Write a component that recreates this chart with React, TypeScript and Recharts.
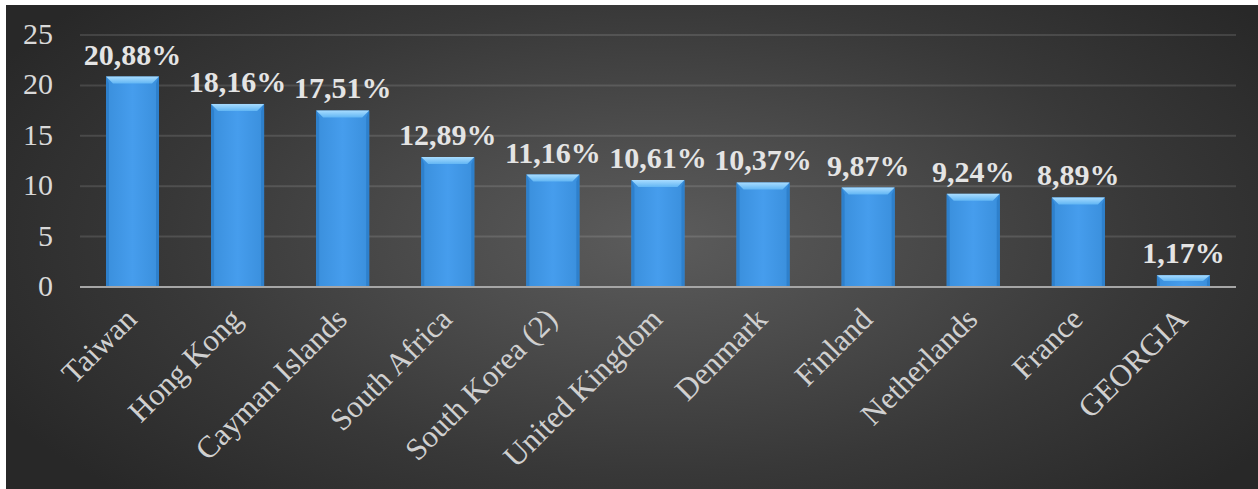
import React from 'react';
import { BarChart, Bar, XAxis, YAxis, CartesianGrid, LabelList } from 'recharts';

const countries = [
  'Taiwan',
  'Hong Kong',
  'Cayman Islands',
  'South Africa',
  'South Korea (2)',
  'United Kingdom',
  'Denmark',
  'Finland',
  'Netherlands',
  'France',
  'GEORGIA',
];
const shares = [20.88, 18.16, 17.51, 12.89, 11.16, 10.61, 10.37, 9.87, 9.24, 8.89, 1.17];
const yTicks = [0, 5, 10, 15, 20, 25];

const data = countries.map((name, i) => ({ name, value: shares[i] }));

const FONT = "'Liberation Serif', 'Times New Roman', serif";

const fmt = (v: number) => v.toFixed(2).replace('.', ',') + '%';

const BevelBar = (props: any) => {
  const { x, y, width, height } = props;
  if (!height || height <= 0) return null;
  const b = Math.min(7, height / 2);
  const s = 3;
  return (
    <g>
      <rect x={x} y={y} width={width} height={height} fill="url(#barBody)" />
      <polygon
        points={`${x},${y} ${x + s},${y + b} ${x + s},${y + height} ${x},${y + height}`}
        fill="#2e80cc"
      />
      <polygon
        points={`${x + width},${y} ${x + width - s},${y + b} ${x + width - s},${y + height} ${x + width},${y + height}`}
        fill="#2e80cc"
      />
      <polygon
        points={`${x},${y} ${x + width},${y} ${x + width - s - 4},${y + b} ${x + s + 4},${y + b}`}
        fill="url(#barTop)"
      />
    </g>
  );
};

const YTick = (props: any) => {
  const { x, y, payload } = props;
  return (
    <text x={x} y={y} dy="0.3em" textAnchor="end" fill="#d9d9d9" fontSize={30} fontFamily={FONT}>
      {payload.value}
    </text>
  );
};

const XTick = (props: any) => {
  const { x, y, payload } = props;
  const tx = x + 6;
  const ty = y;
  return (
    <text
      x={tx}
      y={ty}
      textAnchor="end"
      fill="#d0d0d0"
      fontSize={31}
      fontFamily={FONT}
      transform={`rotate(-45, ${tx}, ${ty})`}
    >
      {payload.value}
    </text>
  );
};

const ValueLabel = (props: any) => {
  const { x, y, width, value } = props;
  return (
    <text
      x={x + width / 2}
      y={y - 12}
      textAnchor="middle"
      fill="#e4e4e4"
      fontSize={30}
      fontWeight="bold"
      fontFamily={FONT}
    >
      {fmt(value)}
    </text>
  );
};

export default function App() {
  return (
    <div style={{ position: 'absolute', left: 0, top: 0, width: 1258, height: 489, background: '#ffffff' }}>
      <div
        style={{
          position: 'absolute',
          left: 6,
          top: 5,
          width: 1252,
          height: 484,
          background:
            'radial-gradient(ellipse 60% 75% at 52% 48%, #5c5c5c 0%, #4c4c4c 30%, #383838 65%, #282828 100%)',
        }}
      >
        <BarChart
          width={1252}
          height={484}
          data={data}
          margin={{ top: 30, right: 22, left: 0, bottom: 0 }}
          barCategoryGap={0}
        >
          <defs>
            <linearGradient id="barBody" x1="0" y1="0" x2="1" y2="0">
              <stop offset="0%" stopColor="#3a8fdc" />
              <stop offset="50%" stopColor="#469ded" />
              <stop offset="100%" stopColor="#3a8fdc" />
            </linearGradient>
            <linearGradient id="barTop" x1="0" y1="0" x2="0" y2="1">
              <stop offset="0%" stopColor="#a8dcff" />
              <stop offset="100%" stopColor="#62b6f4" />
            </linearGradient>
          </defs>
          <CartesianGrid vertical={false} stroke="#ffffff" strokeOpacity={0.12} strokeWidth={2} />
          <XAxis
            dataKey="name"
            interval={0}
            height={202}
            tickLine={false}
            tickSize={0}
            tickMargin={34}
            axisLine={{ stroke: '#a6a6a6', strokeWidth: 2 }}
            tick={<XTick />}
          />
          <YAxis
            width={74}
            domain={[0, 25]}
            ticks={yTicks}
            interval={0}
            axisLine={false}
            tickLine={false}
            tickSize={6}
            tickMargin={21}
            tick={<YTick />}
          />
          <Bar dataKey="value" barSize={53} shape={<BevelBar />} isAnimationActive={false}>
            <LabelList dataKey="value" content={<ValueLabel />} />
          </Bar>
        </BarChart>
      </div>
    </div>
  );
}
